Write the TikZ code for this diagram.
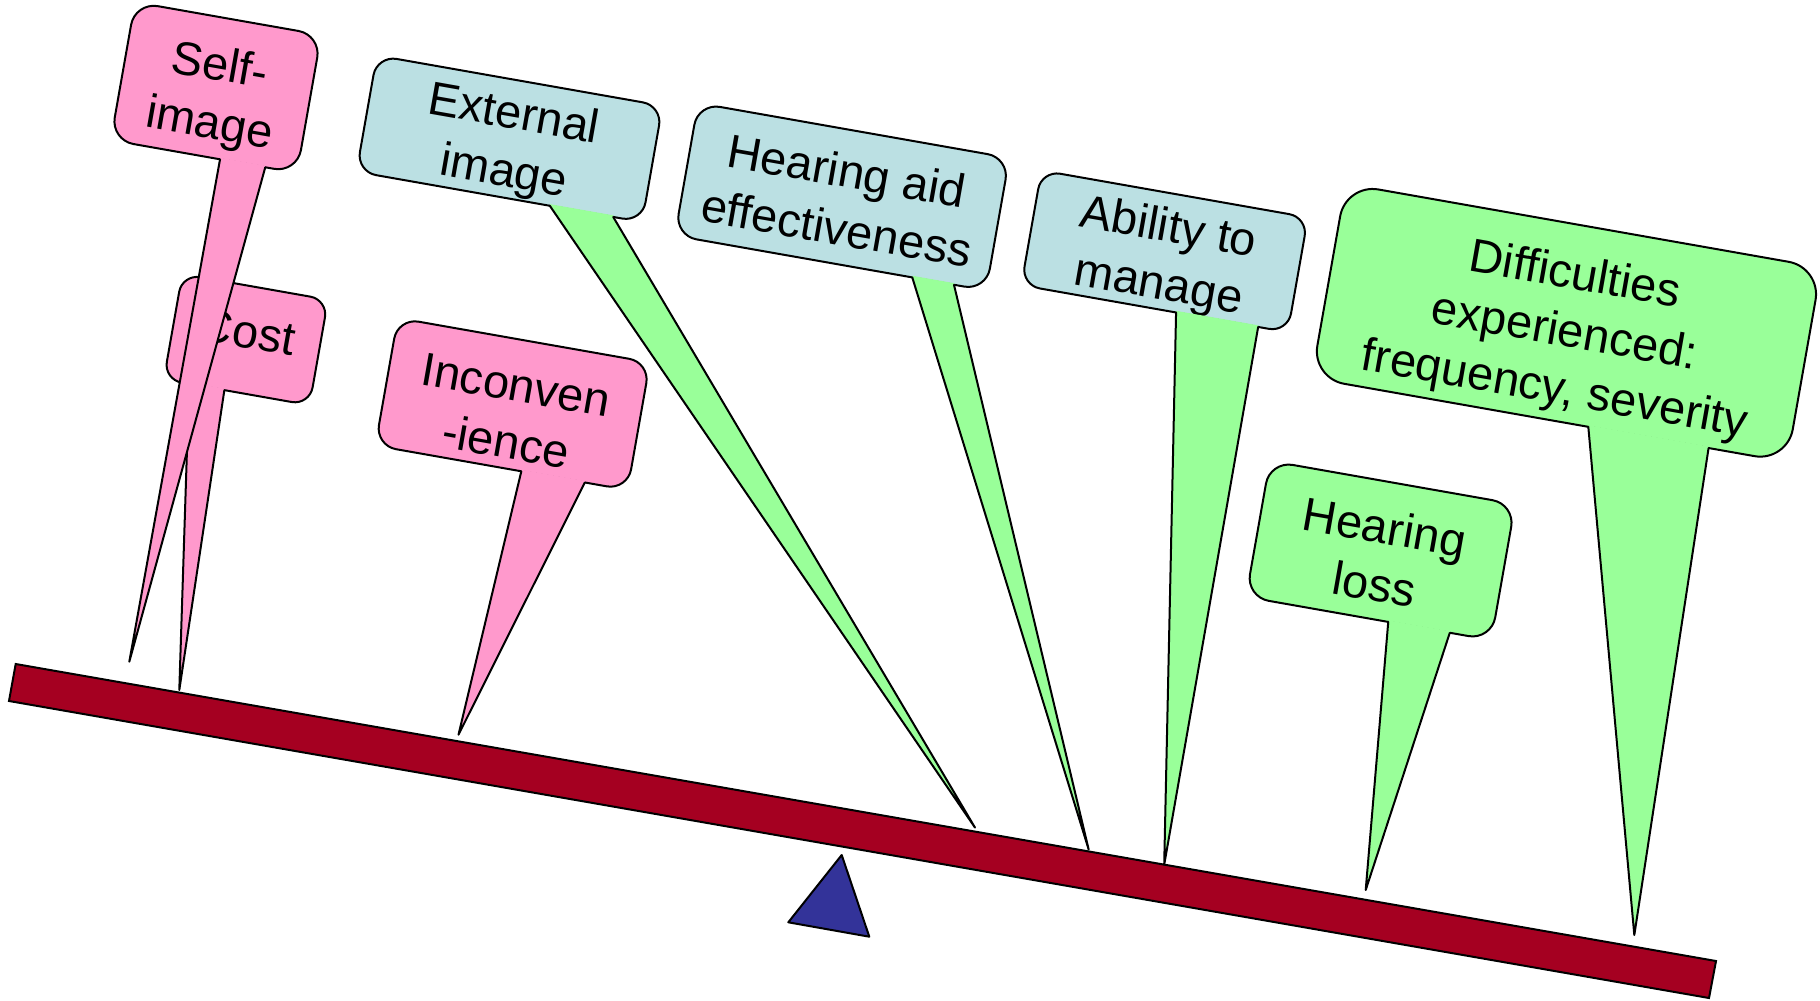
\documentclass[tikz,border=0pt]{standalone}
\usepackage{fontspec}
\setmainfont{Liberation Sans}[Ligatures=NoCommon]
\usetikzlibrary{calc}

\definecolor{pinkfill}{RGB}{255,153,204}
\definecolor{bluefill}{RGB}{187,224,227}
\definecolor{greenfill}{RGB}{153,255,153}
\definecolor{beamred}{RGB}{165,0,33}
\definecolor{pivotblue}{RGB}{51,51,153}

\newcommand\calloutfont{\fontsize{47pt}{58pt}\selectfont}
% line struts; the shifted ones move the whole text of a sign down or up
\newcommand\lstrut{\rule[-0.212em]{0pt}{1.117em}}
\newcommand\lowerby[1]{\rule[-0.212em]{0pt}{\dimexpr1.117em+#1*2\relax}}
\newcommand\raiseby[1]{\rule[\dimexpr-0.212em-#1*2\relax]{0pt}{\dimexpr1.117em+#1*2\relax}}

% pointer of a sign: node, start and end of its base along the bottom edge, tip, colour;
% the fill reaches a hair into the sign so that the border under the base is hidden
\newcommand\signwedge[5]{%
  \coordinate (#1-a) at ($(#1.south west)!#2!(#1.south east)$);
  \coordinate (#1-b) at ($(#1.south west)!#3!(#1.south east)$);
  \fill[#5] ($(#1-a)!1.6pt!90:(#1-b)$) -- (#1-a) -- (#4) -- (#1-b)
            -- ($(#1-b)!1.6pt!-90:(#1-a)$) -- cycle;
  \draw[wedgeline] (#1-a) -- (#4) -- (#1-b);
}

\begin{document}
\begin{tikzpicture}[x=1pt,y=-1pt,
  outline/.style={draw=black,line width=2pt},
  sign/.style={outline,rectangle,rotate=-10,inner sep=0pt,outer sep=0pt,
    align=center,font=\calloutfont,text=black},
  wedgeline/.style={draw=black,line width=2pt,line join=round,line cap=round}]

\useasboundingbox (0,0) rectangle (1820,1001);

% the beam and its pivot
\filldraw[outline,fill=beamred] (15.7,664) -- (1716,961) -- (1709,998) -- (9,701) -- cycle;
\filldraw[outline,fill=pivotblue,line join=round] (841.7,855) -- (869.3,936.7) -- (788.3,922.3) -- cycle;

% where each pointer lands
\coordinate (tipSelf) at (129.3,661.7);
\coordinate (tipCost) at (179.3,690);
\coordinate (tipExt)  at (975,827.6);
\coordinate (tipInc)  at (458.5,734.7);
\coordinate (tipAid)  at (1088.7,849.6);
\coordinate (tipAbl)  at (1164.2,864.7);
\coordinate (tipLos)  at (1365.7,890);
\coordinate (tipDif)  at (1634.3,935);

% left side of the balance
\node[sign,fill=pinkfill,rounded corners=18pt,minimum width=148pt,minimum height=107pt]
  (cost) at (245.9,339.6) {\raiseby{8pt}Cost};
\signwedge{cost}{0.174}{0.416}{tipCost}{pinkfill}

\node[sign,fill=pinkfill,rounded corners=23pt,minimum width=189pt,minimum height=140pt]
  (self) at (216,87.5) {\lowerby{5.5pt}Self-\\\lstrut image};
\signwedge{self}{0.587}{0.830}{tipSelf}{pinkfill}

\node[sign,fill=pinkfill,rounded corners=21pt,minimum width=256pt,minimum height=127pt]
  (inc) at (512.65,404) {\lowerby{9.5pt}Inconven\\\lstrut -ience};
\signwedge{inc}{0.579}{0.831}{tipInc}{pinkfill}

% right side of the balance
\node[sign,fill=bluefill,rounded corners=20pt,minimum width=290pt,minimum height=118pt]
  (ext) at (509.5,138.75) {\lowerby{2.3pt}External\\\lstrut image};
\signwedge{ext}{0.677}{0.899}{tipExt}{greenfill}

\node[sign,fill=bluefill,rounded corners=22pt,minimum width=316pt,minimum height=134.5pt]
  (aid) at (842.1,196.75) {\lowerby{3pt}Hearing aid\\\lstrut effectiveness};
\signwedge{aid}{0.763}{0.897}{tipAid}{greenfill}

\node[sign,fill=bluefill,rounded corners=19pt,minimum width=270.6pt,minimum height=115.5pt]
  (abl) at (1164.6,251.3) {\lowerby{3pt}Ability to\\\lstrut manage};
\signwedge{abl}{0.581}{0.889}{tipAbl}{greenfill}

\node[sign,fill=greenfill,rounded corners=33pt,minimum width=482.7pt,minimum height=197.3pt]
  (dif) at (1566.45,322.8) {\lowerby{7.3pt}Difficulties\\\lstrut experienced:\\\lstrut frequency, severity};
\signwedge{dif}{0.582}{0.835}{tipDif}{greenfill}

\node[sign,fill=greenfill,rounded corners=23pt,minimum width=249pt,minimum height=138pt]
  (los) at (1380.6,550.5) {\lowerby{5.5pt}Hearing\\\lstrut loss};
\signwedge{los}{0.580}{0.831}{tipLos}{greenfill}

\end{tikzpicture}
\end{document}
